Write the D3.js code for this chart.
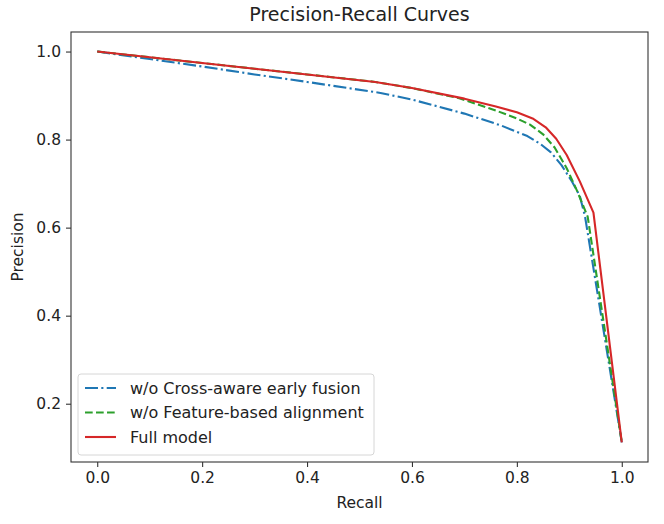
<!DOCTYPE html>
<html>
<head>
<meta charset="utf-8">
<script src="https://cdn.jsdelivr.net/npm/d3@7"></script>
<style>
  body { margin: 0; background: #fff; }
  text { font-family: "DejaVu Sans", sans-serif; fill: #222; }
</style>
</head>
<body>
<div id="chart"></div>
<script>
// series: [recall, precision]
const crossAware = [[0, 1.0], [0.1, 0.983], [0.2, 0.966], [0.3, 0.948], [0.4, 0.931], [0.54, 0.906],
  [0.6, 0.891], [0.7, 0.859], [0.77, 0.832], [0.82, 0.808], [0.845, 0.79], [0.865, 0.771],
  [0.885, 0.742], [0.905, 0.705], [0.92, 0.672], [0.93, 0.625], [1.0, 0.112]];
const featureAlign = [[0, 1.0], [0.1, 0.987], [0.2, 0.974], [0.3, 0.961], [0.4, 0.948], [0.53, 0.931],
  [0.6, 0.917], [0.69, 0.894], [0.76, 0.866], [0.8, 0.848], [0.825, 0.834], [0.85, 0.812],
  [0.872, 0.782], [0.895, 0.735], [0.915, 0.683], [0.935, 0.625], [1.0, 0.112]];
const fullModel = [[0, 1.0], [0.1, 0.987], [0.2, 0.974], [0.3, 0.961], [0.4, 0.948], [0.53, 0.931],
  [0.6, 0.917], [0.7, 0.893], [0.76, 0.875], [0.8, 0.862], [0.83, 0.848], [0.855, 0.828],
  [0.875, 0.802], [0.895, 0.765], [0.92, 0.705], [0.946, 0.634], [1.0, 0.112]];

const seriesNames = ["w/o Cross-aware early fusion", "w/o Feature-based alignment", "Full model"];
const seriesColors = ["#1f77b4", "#2ca02c", "#d62728"];
const seriesDash = ["13,3.3,2.1,3.3", "7.7,3.3", null];
const xTicks = [0, 0.2, 0.4, 0.6, 0.8, 1.0];
const yTicks = [0.2, 0.4, 0.6, 0.8, 1.0];

const W = 664, H = 524;
const margin = { top: 32, right: 16, bottom: 62, left: 71 };
const width = W - margin.left - margin.right;
const height = H - margin.top - margin.bottom;

const svg = d3.select("#chart").append("svg")
  .attr("width", W).attr("height", H);

const g = svg.append("g")
  .attr("transform", `translate(${margin.left},${margin.top})`);

const x = d3.scaleLinear().domain([-0.05, 1.05]).range([0, width]);
const y = d3.scaleLinear().domain([0.0676, 1.0444]).range([height, 0]);

const line = d3.line().x(d => x(d[0])).y(d => y(d[1]));
const allSeries = [crossAware, featureAlign, fullModel];

allSeries.forEach((s, i) => {
  g.append("path")
    .datum(s)
    .attr("fill", "none")
    .attr("stroke", seriesColors[i])
    .attr("stroke-width", 2.1)
    .attr("stroke-linejoin", "round")
    .attr("stroke-dasharray", seriesDash[i])
    .attr("d", line);
});

// axes
const xAxis = g.append("g")
  .attr("transform", `translate(0,${height})`)
  .call(d3.axisBottom(x).tickValues(xTicks).tickFormat(d3.format(".1f")).tickSizeOuter(0).tickSize(5).tickPadding(5));
const yAxis = g.append("g")
  .call(d3.axisLeft(y).tickValues(yTicks).tickFormat(d3.format(".1f")).tickSizeOuter(0).tickSize(5).tickPadding(5));
[xAxis, yAxis].forEach(a => {
  a.select(".domain").remove();
  a.selectAll("line").attr("stroke", "#333").attr("stroke-width", 1.1);
  a.selectAll("text").style("font-size", "15.5px").attr("fill", "#222");
});

// frame
g.append("rect")
  .attr("width", width).attr("height", height)
  .attr("fill", "none").attr("stroke", "#333").attr("stroke-width", 1.1);

// title and labels
svg.append("text")
  .attr("x", margin.left + width / 2).attr("y", 21)
  .attr("text-anchor", "middle").style("font-size", "19px")
  .text("Precision-Recall Curves");
svg.append("text")
  .attr("x", margin.left + width / 2).attr("y", 508)
  .attr("text-anchor", "middle").style("font-size", "15.5px")
  .text("Recall");
svg.append("text")
  .attr("transform", `translate(23,${margin.top + height / 2}) rotate(-90)`)
  .attr("text-anchor", "middle").style("font-size", "15.5px")
  .text("Precision");

// legend
const lg = g.append("g").attr("transform", `translate(7,${height - 88})`);
lg.append("rect")
  .attr("width", 296).attr("height", 81).attr("rx", 3)
  .attr("fill", "#fff").attr("stroke", "#d6d6d6");
seriesNames.forEach((name, i) => {
  const yy = 14 + i * 24.5;
  lg.append("line")
    .attr("x1", 7).attr("x2", 38).attr("y1", yy).attr("y2", yy)
    .attr("stroke", seriesColors[i]).attr("stroke-width", 2.1)
    .attr("stroke-dasharray", seriesDash[i]);
  lg.append("text")
    .attr("x", 52).attr("y", yy + 5.5)
    .style("font-size", "16px")
    .text(name);
});
</script>
</body>
</html>
